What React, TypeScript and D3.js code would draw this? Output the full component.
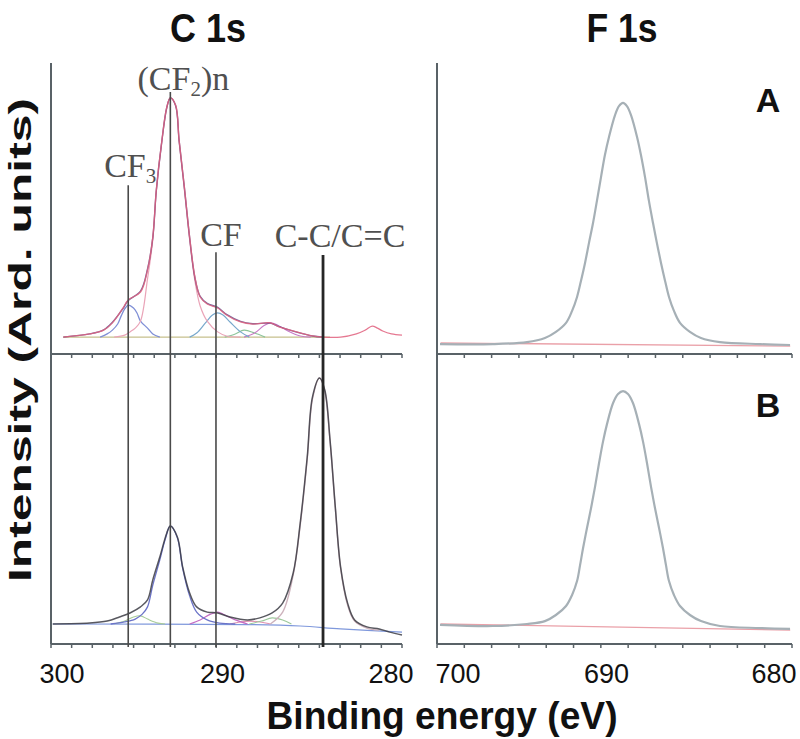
import React from "react";
import * as d3 from "d3";

type Pt = [number, number];

// ---------- axes / ticks ----------
const cDomain: [number, number] = [300, 280];
const fDomain: [number, number] = [700, 680];
const cTickLabels = [300, 290, 280];
const fTickLabels = [700, 690, 680];
const cMinorIntervals = 17;
const fMinorIntervals = 13;
const intensityDomain: [number, number] = [0, 100];

// ---------- C 1s, sample A ----------
const cA_measured: Pt[] = [
  [299.3, 5.8], [297.8, 6.9], [297.0, 8.2], [296.5, 10.7], [295.9, 15.8], [295.6, 18.6],
  [294.9, 21.3], [294.5, 28.9], [294.2, 40.2], [294.0, 56.4], [293.7, 72.5], [293.4, 84.9],
  [293.2, 88.0], [292.9, 85.6], [292.7, 73.5], [292.4, 57.4], [292.1, 40.2], [291.8, 26.5],
  [291.5, 19.6], [291.1, 17.2], [290.5, 15.8], [290.0, 13.4], [289.2, 11.0], [288.5, 10.3],
  [287.5, 10.7], [287.0, 9.3], [286.0, 7.6], [285.1, 6.2], [284.5, 5.8], [283.5, 5.8],
  [282.6, 6.9], [282.1, 8.2], [281.7, 9.6], [281.4, 8.9], [281.1, 7.9], [280.6, 6.9], [280.0, 6.5],
];
const cA_fit: Pt[] = [
  [299.3, 5.8], [297.8, 6.9], [297.0, 8.3], [296.5, 10.9], [295.9, 15.6], [295.6, 18.4],
  [294.9, 21.6], [294.5, 29.2], [294.2, 40.0], [294.0, 56.2], [293.7, 72.4], [293.4, 84.8],
  [293.2, 88.0], [292.9, 85.4], [292.7, 73.3], [292.4, 57.2], [292.1, 40.0], [291.8, 26.2],
  [291.5, 19.8], [291.1, 17.4], [290.5, 16.0], [290.0, 13.6], [289.2, 11.2], [288.5, 10.4],
  [287.5, 10.6], [287.0, 9.4], [286.0, 7.5], [285.1, 6.2], [284.5, 5.8],
];
const cA_CF3: Pt[] = [
  [297.2, 5.8], [296.8, 6.9], [296.5, 8.2], [296.2, 10.3], [296.0, 13.1], [295.8, 15.5],
  [295.6, 16.8], [295.3, 15.8], [295.1, 14.1], [294.9, 11.3], [294.5, 8.9], [294.2, 6.9], [293.8, 5.8],
];
const cA_CF2: Pt[] = [
  [296.4, 5.8], [295.8, 6.5], [295.5, 7.6], [295.2, 8.9], [294.9, 11.3], [294.5, 25.8],
  [294.2, 39.2], [294.0, 55.7], [293.7, 72.2], [293.4, 84.5], [293.2, 88.0], [292.9, 85.2],
  [292.7, 72.9], [292.4, 56.4], [292.1, 39.2], [291.8, 25.1], [291.5, 16.5], [291.1, 11.3],
  [290.5, 7.6], [290.0, 6.2], [289.2, 5.8],
];
const cA_CF: Pt[] = [
  [292.1, 5.8], [291.7, 7.2], [291.2, 10.7], [290.8, 13.4], [290.5, 14.1], [290.2, 13.4],
  [289.8, 11.0], [289.2, 7.6], [288.7, 5.8],
];
const cA_P4: Pt[] = [[290.1, 5.8], [289.5, 6.9], [289.0, 8.2], [288.4, 7.2], [287.8, 5.8]];
const cA_P5: Pt[] = [
  [289.0, 5.8], [288.4, 7.2], [287.9, 9.6], [287.5, 10.7], [287.1, 10.0], [286.5, 7.9],
  [285.8, 6.2], [285.2, 5.8],
];
const cA_baseline: Pt[] = [[299.3, 5.8], [284.1, 5.8]];

// ---------- C 1s, sample B ----------
const cB_measured: Pt[] = [
  [299.9, 6.9], [297.8, 7.2], [296.8, 7.9], [296.1, 9.3], [295.5, 10.7], [294.9, 12.8],
  [294.5, 15.2], [294.2, 22.1], [293.8, 30.0], [293.4, 38.3], [293.2, 40.7], [292.8, 36.9],
  [292.5, 26.6], [292.1, 17.6], [291.7, 12.8], [291.1, 11.0], [290.5, 10.7], [289.8, 9.3],
  [288.8, 8.3], [288.1, 9.0], [287.4, 10.7], [286.8, 14.1], [286.2, 24.5], [285.8, 41.7],
  [285.4, 64.5], [285.1, 85.2], [284.7, 91.7], [284.4, 87.6], [284.1, 70.3], [283.8, 47.2],
  [283.5, 26.6], [283.1, 14.1], [282.7, 8.3], [282.0, 5.9], [281.3, 5.2], [280.7, 4.1], [280.0, 3.1],
];
const cB_CF3: Pt[] = [
  [296.4, 6.9], [295.8, 7.9], [295.3, 9.3], [294.9, 9.7], [294.5, 8.6], [293.9, 7.2], [293.5, 6.9],
];
const cB_CF2: Pt[] = [
  [296.6, 6.9], [295.8, 7.6], [295.2, 8.6], [294.8, 10.3], [294.5, 12.8], [294.2, 20.3],
  [293.8, 29.0], [293.5, 35.9], [293.2, 40.7], [292.8, 36.6], [292.5, 26.2], [292.1, 16.6],
  [291.7, 11.0], [291.1, 8.3], [290.4, 7.2], [289.5, 6.9],
];
const cB_CF: Pt[] = [
  [292.1, 6.9], [291.5, 8.3], [290.9, 10.3], [290.5, 11.0], [290.1, 10.0], [289.5, 8.3], [288.8, 6.9],
];
const cB_P4: Pt[] = [[289.8, 6.9], [289.2, 7.6], [288.7, 7.9], [288.1, 7.6], [287.5, 6.9]];
const cB_P5: Pt[] = [[288.7, 6.9], [288.0, 7.9], [287.4, 9.0], [286.8, 8.3], [286.3, 6.9]];
const cB_CC: Pt[] = [
  [287.5, 6.9], [286.8, 11.0], [286.2, 23.8], [285.8, 41.0], [285.4, 63.8], [285.1, 84.5],
  [284.7, 91.7], [284.4, 87.2], [284.1, 70.0], [283.8, 46.9], [283.5, 26.2], [283.1, 13.4],
  [282.7, 7.9], [282.0, 5.5], [281.3, 4.8],
];
const cB_baseline: Pt[] = [[299.9, 6.9], [288.8, 6.7], [285.8, 6.2], [283.5, 5.2], [280.0, 4.1]];

// ---------- F 1s ----------
const fA_curve: Pt[] = [
  [699.83, 3.4], [696.85, 3.4], [694.93, 4.1], [693.92, 5.5], [693.30, 7.6], [692.73, 10.7],
  [692.39, 14.8], [692.11, 19.6], [691.89, 25.1], [691.66, 31.3], [691.44, 38.1], [691.21, 45.0],
  [690.99, 52.6], [690.76, 60.8], [690.54, 68.4], [690.31, 74.6], [689.97, 82.1], [689.75, 85.2],
  [689.52, 86.3],
  [689.30, 85.2], [689.07, 82.1], [688.73, 74.6], [688.51, 68.4], [688.28, 60.8], [688.06, 52.6],
  [687.83, 45.0], [687.61, 38.1], [687.38, 31.3], [687.15, 25.1], [686.93, 19.6], [686.65, 14.8],
  [686.31, 10.7], [685.75, 7.6], [685.13, 5.5], [684.06, 4.1], [681.80, 3.4], [680.11, 3.1],
];
const fA_baseline: Pt[] = [[699.8, 3.8], [680.1, 2.7]];
const fB_curve: Pt[] = [
  [699.83, 6.6], [696.85, 6.2], [694.93, 6.9], [693.92, 7.9], [693.30, 10.0], [692.73, 13.1],
  [692.39, 16.9], [692.11, 21.7], [691.94, 27.2], [691.77, 33.1], [691.55, 40.0], [691.32, 46.9],
  [691.10, 54.1], [690.87, 62.4], [690.65, 69.7], [690.42, 75.9], [690.08, 83.1], [689.80, 86.2],
  [689.52, 87.2],
  [689.24, 86.2], [688.96, 83.1], [688.62, 75.9], [688.39, 69.7], [688.17, 62.4], [687.94, 54.1],
  [687.72, 46.9], [687.49, 40.0], [687.27, 33.1], [687.10, 27.2], [686.93, 21.7], [686.65, 16.9],
  [686.31, 13.1], [685.75, 10.0], [685.13, 7.9], [684.06, 6.2], [681.80, 5.5], [680.11, 5.2],
];
const fB_baseline: Pt[] = [[699.8, 6.9], [680.1, 4.8]];

// ---------- peak markers (energy, top intensity in panel A) ----------
const markerNames = ["CF3", "(CF2)n", "CF", "C-C/C=C"];
const markerEnergies = [295.6, 293.2, 290.6, 284.5];
const markerTops = [58, 90, 35, 34];

// ---------- layout ----------
const W = 800, H = 739;
const LX0 = 51, LX1 = 402, RX0 = 437, RX1 = 792;
const TOP = 63, MID = 354, BOT = 644;
const AXIS = "#596267";

export default function App() {
  const xC = d3.scaleLinear().domain(cDomain).range([LX0, LX1]);
  const xF = d3.scaleLinear().domain(fDomain).range([RX0, RX1]);
  const yA = d3.scaleLinear().domain(intensityDomain).range([MID, TOP]);
  const yB = d3.scaleLinear().domain(intensityDomain).range([BOT, MID]);

  const mk = (x: d3.ScaleLinear<number, number>, y: d3.ScaleLinear<number, number>) =>
    d3.line<Pt>().x((d) => x(d[0])).y((d) => y(d[1])).curve(d3.curveCatmullRom.alpha(0.5));

  const lCA = mk(xC, yA), lCB = mk(xC, yB), lFA = mk(xF, yA), lFB = mk(xF, yB);

  const cTicks = d3.range(cMinorIntervals + 1).map((i) => cDomain[0] + (i * (cDomain[1] - cDomain[0])) / cMinorIntervals);
  const fTicks = d3.range(fMinorIntervals + 1).map((i) => fDomain[0] + (i * (fDomain[1] - fDomain[0])) / fMinorIntervals);

  const cLabelDx = [11, -4, -11];
  const fLabelDx = [21, -8, -18];

  const p = (d: string | null, stroke: string, w = 1.2, op = 1) => (
    <path d={d || ""} fill="none" stroke={stroke} strokeWidth={w} strokeOpacity={op} strokeLinejoin="round" />
  );

  const hAxis = (x: d3.ScaleLinear<number, number>, ticks: number[], yPos: number, key: string) => (
    <g key={key}>
      <line x1={x.range()[0]} x2={x.range()[1]} y1={yPos} y2={yPos} stroke={AXIS} strokeWidth={2} />
      {ticks.map((t, i) => (
        <line key={i} x1={x(t)} x2={x(t)} y1={yPos} y2={yPos + 4} stroke={AXIS} strokeWidth={1.5} />
      ))}
    </g>
  );

  const serif = "'Liberation Serif', 'Times New Roman', serif";
  const sans = "'Liberation Sans', Arial, Helvetica, sans-serif";

  const labelDx = [2, 13, 5, 17];
  const labelGap = [8, 2, 6, 8];

  return (
    <svg width={W} height={H} style={{ position: "absolute", left: 0, top: 0, background: "#fff" }}>
      <rect x={0} y={0} width={W} height={H} fill="#fff" />

      {/* titles */}
      <text x={208} y={42} fontFamily={sans} fontWeight="bold" fontSize={40} textAnchor="middle" textLength={76} lengthAdjust="spacingAndGlyphs" fill="#111">C 1s</text>
      <text x={622} y={42} fontFamily={sans} fontWeight="bold" fontSize={40} textAnchor="middle" textLength={71} lengthAdjust="spacingAndGlyphs" fill="#111">F 1s</text>

      {/* C 1s panel A curves */}
      {p(lCA(cA_baseline), "#b8b070", 1.2, 0.8)}
      {p(lCA(cA_P4), "#8cc49a", 1.1)}
      {p(lCA(cA_P5), "#c77ac7", 1.1)}
      {p(lCA(cA_CF), "#78a8cc", 1.2)}
      {p(lCA(cA_CF3), "#7f8fd6", 1.3)}
      {p(lCA(cA_CF2), "#eaa4b8", 1.2)}
      {p(lCA(cA_fit), "#4b3b7e", 1.4, 0.75)}
      {p(lCA(cA_measured), "#e0607e", 1.3, 0.85)}

      {/* C 1s panel B curves */}
      {p(lCB(cB_baseline), "#7f98dc", 1.2)}
      {p(lCB(cB_CF3), "#a8cc98", 1.1)}
      {p(lCB(cB_P4), "#e090b0", 1.1)}
      {p(lCB(cB_P5), "#9cc89c", 1.1)}
      {p(lCB(cB_CF), "#c46cc4", 1.2)}
      {p(lCB(cB_CF2), "#6c74c8", 1.3)}
      {p(lCB(cB_CC), "#cdb2bc", 1.4)}
      {p(lCB(cB_measured), "#3c3c44", 1.5, 0.85)}

      {/* F 1s curves */}
      {p(lFA(fA_baseline), "#eaa0a8", 1.4)}
      {p(lFA(fA_curve), "#a6b0b6", 2.2)}
      {p(lFB(fB_baseline), "#eaa0a8", 1.4)}
      {p(lFB(fB_curve), "#a6b0b6", 2.2)}

      {/* axes */}
      <line x1={LX0} x2={LX0} y1={TOP} y2={BOT} stroke={AXIS} strokeWidth={2} />
      <line x1={RX0} x2={RX0} y1={TOP} y2={BOT} stroke={AXIS} strokeWidth={2} />
      {hAxis(xC, cTicks, MID, "cm")}
      {hAxis(xC, cTicks, BOT, "cb")}
      {hAxis(xF, fTicks, MID, "fm")}
      {hAxis(xF, fTicks, BOT, "fb")}

      {/* peak markers */}
      {markerEnergies.map((e, i) => (
        <line key={i} x1={xC(e)} x2={xC(e)} y1={yA(markerTops[i])} y2={BOT + 3}
          stroke={i === 3 ? "#262626" : "#4a4a4a"} strokeWidth={i === 3 ? 2.8 : 1.6} />
      ))}
      {markerNames.map((n, i) => {
        const x = xC(markerEnergies[i]) + labelDx[i];
        const y = yA(markerTops[i]) - labelGap[i];
        const sub = n === "CF3" ? "3" : n === "(CF2)n" ? "2" : null;
        return (
          <text key={n} x={x} y={y} fontFamily={serif} fontSize={34} textAnchor="middle" fill="#505050">
            {n === "CF3" && (<><tspan>CF</tspan><tspan fontSize={21} dy={6}>{sub}</tspan></>)}
            {n === "(CF2)n" && (<><tspan>(CF</tspan><tspan fontSize={21} dy={6}>{sub}</tspan><tspan dy={-6}>)n</tspan></>)}
            {n !== "CF3" && n !== "(CF2)n" && n}
          </text>
        );
      })}

      {/* panel letters */}
      <text x={768} y={112} fontFamily={sans} fontWeight="bold" fontSize={34} textAnchor="middle" fill="#111">A</text>
      <text x={768} y={417} fontFamily={sans} fontWeight="bold" fontSize={34} textAnchor="middle" fill="#111">B</text>

      {/* tick labels */}
      {cTickLabels.map((v, i) => (
        <text key={"c" + v} x={xC(v) + cLabelDx[i]} y={683} fontFamily={sans} fontSize={27} textAnchor="middle" fill="#111">{v}</text>
      ))}
      {fTickLabels.map((v, i) => (
        <text key={"f" + v} x={xF(v) + fLabelDx[i]} y={683} fontFamily={sans} fontSize={27} textAnchor="middle" fill="#111">{v}</text>
      ))}

      {/* axis titles */}
      <text x={442} y={729} fontFamily={sans} fontWeight="bold" fontSize={38} textAnchor="middle" textLength={351} lengthAdjust="spacingAndGlyphs" fill="#111">Binding energy (eV)</text>
      <text transform="translate(31,340) rotate(-90)" x={0} y={0} fontFamily={sans} fontWeight="bold" fontSize={32} textAnchor="middle" textLength={484} lengthAdjust="spacingAndGlyphs" fill="#111">Intensity (Ard. units)</text>
    </svg>
  );
}
